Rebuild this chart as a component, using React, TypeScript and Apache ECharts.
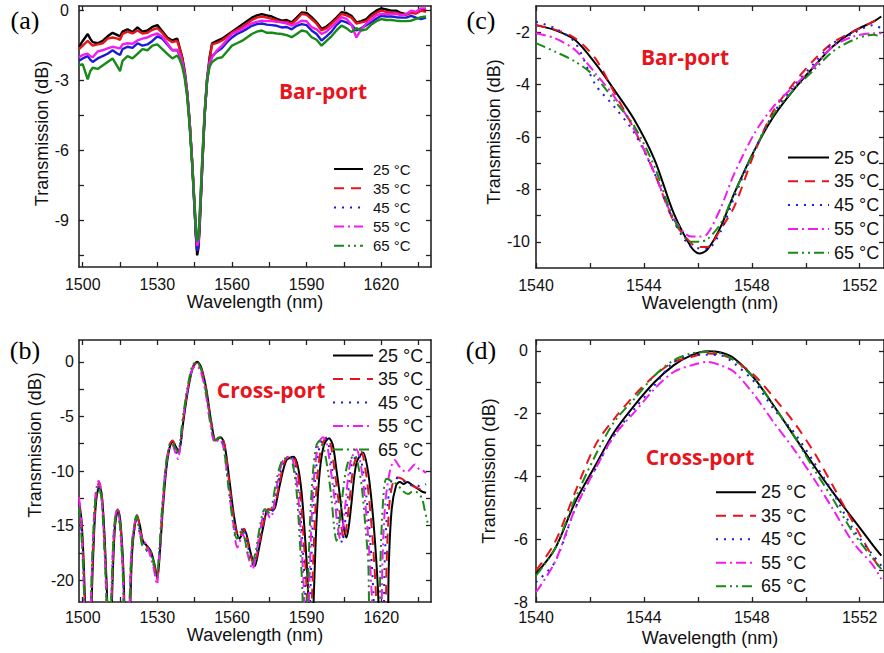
import React, { useEffect, useRef } from 'react';
import * as echarts from 'echarts';

const FONT = "'Liberation Sans', Arial, sans-serif";
const NAMES = ['25 °C', '35 °C', '45 °C', '55 °C', '65 °C'];
const COLORS = ['#000000', '#e8141b', '#1c1cd6', '#f01cf0', '#178a17'];
const DASHES: any[] = ['solid', [10, 7], [2, 6], [10, 4, 2, 4], [10, 4, 2, 4, 2, 4]];

// ---------- Panel (a): Bar-port, full span ----------
const A_WL = [
  1498.5, 1500, 1502, 1503, 1504,
  1506, 1508, 1510, 1512, 1514,
  1515, 1516, 1518, 1520, 1522,
  1524, 1526, 1528, 1530, 1532,
  1534, 1536, 1538, 1539, 1540,
  1541, 1542, 1543, 1544, 1545,
  1545.5, 1546, 1546.5, 1547, 1548,
  1549, 1550, 1551, 1552, 1554,
  1556, 1558, 1560, 1562, 1564,
  1566, 1568, 1570, 1572, 1574,
  1576, 1578, 1580, 1582, 1584,
  1586, 1588, 1590, 1592, 1594,
  1596, 1598, 1600, 1602, 1604,
  1606, 1608, 1610, 1612, 1614,
  1616, 1618, 1620, 1622, 1624,
  1626, 1628, 1630, 1632, 1634,
  1636, 1638,
];
const A_25 = [
  -1.55, -1.3, -1.0, -1.2, -1.35,
  -1.4, -1.3, -1.1, -0.95, -1.05,
  -1.1, -0.9, -0.8, -0.92, -0.72,
  -0.9, -0.85, -0.7, -0.62, -0.88,
  -1.15, -1.28, -1.2, -1.6, -2.0,
  -2.6, -3.5, -4.8, -6.5, -8.6,
  -9.7, -10.5, -10.2, -9.3, -6.8,
  -4.5, -2.9, -2.0, -1.4, -1.3,
  -1.2, -1.05, -0.9, -0.75, -0.6,
  -0.45, -0.3, -0.2, -0.15, -0.2,
  -0.25, -0.35, -0.43, -0.4, -0.5,
  -0.3, -0.08, -0.1, -0.28, -0.5,
  -0.78, -0.68, -0.5, -0.3, -0.07,
  -0.1, -0.22, -0.5, -0.45, -0.36,
  -0.15, 0.0, 0.1, 0.05, 0.0,
  0.0, -0.1, -0.15, -0.07, -0.1,
  0.05, 0.0,
];
const A_35 = [
  -1.65, -1.5, -1.3, -1.4, -1.5,
  -1.45, -1.4, -1.2, -1.15, -1.2,
  -1.25, -1.0, -0.9, -0.98, -0.85,
  -0.98, -0.95, -0.82, -0.75, -0.95,
  -1.22, -1.35, -1.3, -1.65, -2.05,
  -2.65, -3.5, -4.8, -6.5, -8.5,
  -9.6, -10.3, -10.1, -9.2, -6.8,
  -4.5, -3.0, -2.1, -1.45, -1.38,
  -1.28, -1.12, -0.95, -0.82, -0.7,
  -0.55, -0.4, -0.3, -0.25, -0.3,
  -0.35, -0.42, -0.5, -0.48, -0.56,
  -0.38, -0.14, -0.18, -0.36, -0.56,
  -0.85, -0.75, -0.56, -0.36, -0.14,
  -0.2, -0.3, -0.55, -0.5, -0.45,
  -0.25, -0.1, 0.0, -0.05, -0.1,
  -0.1, -0.15, -0.18, -0.1, -0.12,
  0.0, -0.05,
];
const A_45 = [
  -2.15, -2.05, -1.95, -2.1, -2.2,
  -2.05, -1.95, -1.85, -1.7, -1.85,
  -1.9, -1.65, -1.55, -1.6, -1.4,
  -1.5, -1.45, -1.3, -1.1, -1.2,
  -1.45, -1.7, -1.7, -1.95, -2.25,
  -2.8, -3.6, -4.9, -6.6, -8.6,
  -9.6, -10.3, -10.1, -9.1, -6.7,
  -4.5, -3.0, -2.3, -1.95, -1.75,
  -1.6, -1.35, -1.15, -1.0, -0.9,
  -0.78, -0.65, -0.58, -0.55, -0.6,
  -0.62, -0.65, -0.72, -0.7, -0.8,
  -0.65, -0.58, -0.62, -0.85, -1.0,
  -1.28, -1.1, -0.9, -0.62, -0.43,
  -0.5, -0.6, -0.85, -0.75, -0.62,
  -0.5, -0.35, -0.22, -0.25, -0.25,
  -0.28, -0.3, -0.3, -0.22, -0.3,
  -0.36, -0.3,
];
const A_55 = [
  -2.0, -1.9, -1.85, -1.95, -2.0,
  -1.75, -1.7, -1.62, -1.55, -1.6,
  -1.62, -1.45, -1.4, -1.42, -1.28,
  -1.2, -1.15, -1.05, -0.98, -1.12,
  -1.4, -1.7, -1.68, -1.9, -2.2,
  -2.75, -3.55, -4.85, -6.5, -8.4,
  -9.4, -10.1, -9.9, -8.9, -6.5,
  -4.3, -2.9, -2.25, -2.0, -1.7,
  -1.5, -1.25, -1.0, -0.9, -0.8,
  -0.65, -0.55, -0.48, -0.43, -0.45,
  -0.45, -0.48, -0.5, -0.55, -0.64,
  -0.55, -0.43, -0.45, -0.71, -0.8,
  -1.0, -0.9, -0.7, -0.5, -0.28,
  -0.35, -0.6, -1.15, -0.8, -0.55,
  -0.4, -0.2, -0.14, -0.15, -0.15,
  -0.14, -0.2, -0.15, 0.0, -0.05,
  0.1, 0.1,
];
const A_65 = [
  -2.35, -2.3, -2.95, -2.6, -2.45,
  -2.5, -2.35, -2.2, -2.05, -2.4,
  -2.6, -2.15, -1.95, -2.05, -1.85,
  -1.65, -1.7, -1.5, -1.45, -1.65,
  -1.85, -2.05, -1.92, -2.1, -2.4,
  -2.9, -3.7, -5.0, -6.6, -8.4,
  -9.3, -9.9, -9.7, -8.8, -6.5,
  -4.4, -3.0, -2.4, -2.2, -2.05,
  -2.0, -1.75, -1.5, -1.4, -1.3,
  -1.15, -1.0, -0.9, -0.85, -0.95,
  -0.95, -0.98, -1.0, -1.05, -1.14,
  -1.0, -0.85, -0.9, -1.14, -1.25,
  -1.5, -1.3, -1.1, -0.85, -0.64,
  -0.75, -0.92, -0.75, -0.85, -0.8,
  -0.6, -0.45, -0.36, -0.4, -0.4,
  -0.43, -0.45, -0.45, -0.43, -0.35,
  -0.28, -0.25,
];

// ---------- Panel (b): Cross-port, full span ([wavelength, dB]) ----------
const B_25 = [
  [1498.5, -12.8], [1499.5, -14.5], [1500.5, -19], [1501.5, -26], [1502.5, -30], [1503.5, -22.5], [1504.5, -16], [1505.5, -12.5],
  [1506.7, -11.4], [1507.8, -12.5], [1509, -17], [1510, -23], [1510.8, -30], [1512, -20], [1513, -15], [1514.2, -13.6],
  [1515.3, -15], [1516.5, -20], [1517.5, -30], [1519, -23], [1520, -17], [1521.9, -14.1], [1523, -15], [1524.2, -16.4],
  [1526, -16.9], [1527.5, -17.4], [1528.8, -18.5], [1530, -19.8], [1531, -17.5], [1532.2, -13.5], [1533.6, -9.8], [1535, -7.8],
  [1536.2, -7.3], [1537.5, -7.8], [1538.6, -8.2], [1539.5, -7.3], [1540.3, -5.7], [1542.3, -2.6], [1544.3, -0.5], [1546, 0],
  [1547.6, -0.5], [1549.6, -2.4], [1551.6, -5.4], [1553.5, -7.2], [1555.4, -6.9], [1557, -7.6], [1559, -10.9], [1561, -14.4],
  [1563, -16.2], [1565, -15.4], [1567.5, -17.5], [1569.2, -18.7], [1570.5, -17.5], [1572.5, -15.2], [1574.5, -13.5], [1576.5, -13.6],
  [1577.5, -13.2], [1579.3, -11.2], [1581.9, -9.0], [1584.8, -8.7], [1586.5, -9.6], [1588, -12], [1589.5, -16.5], [1590.6, -21],
  [1591.5, -30], [1592.8, -22], [1594, -14.5], [1595.3, -10.0], [1597, -7.6], [1599, -7.0], [1600.5, -7.6], [1602, -9.9],
  [1603.5, -12.5], [1604.8, -15.0], [1606, -16.1], [1607, -15.0], [1608, -13.0], [1610, -9.3], [1612.7, -8.3], [1614.5, -9.8],
  [1616, -12.5], [1617.5, -16.5], [1618.8, -21.5], [1620, -30], [1622.2, -30], [1623, -19], [1624.2, -13.5], [1626, -11.3],
  [1627.5, -11.0], [1629, -11.2], [1630.5, -11.0], [1632.5, -11.3], [1634.5, -11.6], [1636.5, -11.9], [1638, -12.0],
];
const B_35 = [
  [1498.5, -12.9], [1499.4, -14.5], [1500.4, -19], [1501.4, -26], [1502.4, -30], [1503.4, -22.5], [1504.4, -16], [1505.4, -12.3],
  [1506.6, -11.0], [1507.7, -12.3], [1508.9, -17], [1509.9, -23], [1510.7, -30], [1511.9, -20], [1512.9, -15], [1514.1, -13.5],
  [1515.2, -15], [1516.4, -20], [1517.4, -30], [1518.9, -23], [1519.9, -17], [1521.8, -14.0], [1522.9, -15], [1524.1, -16.5],
  [1525.9, -17.0], [1527.4, -17.5], [1528.7, -18.6], [1529.9, -19.9], [1530.9, -17.5], [1532.1, -13.4], [1533.5, -9.6], [1534.9, -7.6],
  [1536.1, -7.2], [1537.4, -7.8], [1538.5, -8.3], [1539.4, -7.3], [1540.2, -5.6], [1542.2, -2.5], [1544.2, -0.5], [1545.9, -0.1],
  [1547.5, -0.5], [1549.5, -2.4], [1551.5, -5.4], [1553.4, -7.2], [1555.3, -6.8], [1556.9, -7.5], [1558.8, -10.9], [1560.8, -14.4],
  [1562.8, -16.1], [1564.8, -15.3], [1567.2, -17.5], [1568.9, -18.6], [1570.2, -17.5], [1572.2, -15.2], [1574.2, -13.6], [1576.1, -13.5],
  [1577.1, -13.3], [1578.9, -11.3], [1581.4, -9.0], [1584.3, -8.6], [1586, -9.6], [1587.4, -12], [1588.9, -16.5], [1590, -21],
  [1590.9, -30], [1592.1, -22], [1593.3, -14.5], [1594.5, -10.0], [1596.2, -7.6], [1598.2, -6.9], [1599.7, -7.6], [1601.2, -9.9],
  [1602.7, -12.5], [1603.9, -15.0], [1605.1, -16.2], [1606.1, -15.0], [1607.1, -13.0], [1609.1, -9.3], [1611.8, -8.2], [1613.6, -9.8],
  [1615.1, -12.5], [1616.6, -16.5], [1617.9, -21.5], [1619, -30], [1621.3, -30], [1622.1, -19], [1623.3, -13], [1625, -10.8],
  [1626.5, -10.6], [1628.2, -10.7], [1630, -11.0], [1632, -11.3], [1634, -11.5], [1636, -11.7], [1638, -11.8],
];
const B_45 = [
  [1498.5, -13.1], [1499.3, -14.7], [1500.3, -19], [1501.3, -26], [1502.3, -30], [1503.3, -22.5], [1504.3, -16], [1505.3, -12.5],
  [1506.5, -11.5], [1507.6, -12.6], [1508.8, -17], [1509.8, -23], [1510.6, -30], [1511.8, -20], [1512.8, -15], [1514.0, -13.8],
  [1515.1, -15.2], [1516.3, -20], [1517.3, -30], [1518.8, -23], [1519.8, -17], [1521.7, -14.6], [1522.8, -15.3], [1524.0, -16.6],
  [1525.8, -17.3], [1527.3, -17.6], [1528.6, -18.7], [1529.8, -19.8], [1530.8, -17.5], [1532.0, -13.6], [1533.4, -9.8], [1534.8, -7.9],
  [1536.0, -7.5], [1537.3, -8.1], [1538.4, -8.6], [1539.3, -7.4], [1540.1, -5.7], [1542.1, -2.6], [1544.1, -0.5], [1545.8, -0.1],
  [1547.4, -0.6], [1549.4, -2.5], [1551.4, -5.5], [1553.3, -7.3], [1555.1, -7.0], [1556.7, -7.6], [1558.6, -11.0], [1560.6, -14.5],
  [1562.5, -16.0], [1564.5, -15.2], [1566.8, -17.3], [1568.5, -18.6], [1569.9, -17.5], [1571.8, -15.2], [1573.8, -13.7], [1575.7, -13.8],
  [1576.7, -13.4], [1578.4, -11.3], [1580.9, -9.0], [1583.8, -8.6], [1585.4, -9.6], [1586.8, -12], [1588.3, -16.5], [1589.4, -21],
  [1590.3, -30], [1591.4, -22], [1592.5, -14.5], [1593.7, -10.0], [1595.4, -7.6], [1597.3, -6.9], [1598.8, -7.6], [1600.3, -9.9],
  [1601.8, -12.5], [1603.1, -15.0], [1604.3, -16.6], [1605.3, -15.0], [1606.3, -13.0], [1608.2, -9.3], [1610.8, -8.5], [1612.6, -9.8],
  [1614.1, -12.5], [1615.6, -16.5], [1616.9, -21.5], [1618, -30], [1620.5, -30], [1621.3, -19], [1622.6, -13], [1624.2, -10.8],
  [1625.4, -10.6], [1627.5, -10.8], [1629.5, -11.0], [1631.5, -11.3], [1633.5, -11.2], [1635.5, -11.4], [1638, -11.2],
];
const B_55 = [
  [1498.5, -12.4], [1499.3, -14.3], [1500.2, -19], [1501.2, -26], [1502.2, -30], [1503.2, -22.5], [1504.2, -15.8], [1505.2, -12.0],
  [1506.4, -10.9], [1507.5, -12.2], [1508.7, -17], [1509.7, -23], [1510.5, -30], [1511.7, -20], [1512.7, -14.8], [1513.9, -13.4],
  [1515.0, -15], [1516.2, -20], [1517.2, -30], [1518.7, -23], [1519.7, -16.8], [1521.6, -14.2], [1522.7, -15.5], [1523.9, -16.2],
  [1525.7, -16.8], [1527.2, -17.8], [1528.6, -19.0], [1529.8, -20.4], [1530.7, -17.8], [1531.9, -13.6], [1533.3, -9.8], [1534.7, -7.9],
  [1535.9, -7.6], [1537.2, -8.3], [1538.3, -8.9], [1539.2, -7.6], [1540.0, -5.8], [1542.0, -2.7], [1544.0, -0.7], [1545.7, -0.4],
  [1547.3, -0.8], [1549.3, -2.7], [1551.3, -5.7], [1553.2, -7.4], [1555.0, -7.1], [1556.6, -7.9], [1558.4, -11.0], [1560.4, -14.6],
  [1562.2, -17.0], [1564.3, -15.8], [1566.5, -17.8], [1568.2, -19.0], [1569.6, -17.8], [1571.5, -15.2], [1573.5, -13.5], [1575.4, -14.3],
  [1576.4, -13.8], [1578.1, -11.3], [1580.6, -9.0], [1583.6, -8.7], [1585.1, -9.7], [1586.5, -12], [1587.9, -16.5], [1588.9, -21],
  [1589.8, -30], [1590.9, -22], [1592.0, -14.5], [1593.2, -10.0], [1594.9, -7.4], [1596.6, -6.9], [1598.2, -7.6], [1599.7, -9.9],
  [1601.2, -12.5], [1602.4, -15.0], [1603.5, -16.2], [1604.6, -15.0], [1605.6, -13.0], [1607.5, -9.3], [1610.0, -8.0], [1611.9, -9.6],
  [1613.4, -12.5], [1614.9, -16.5], [1616.2, -21.5], [1617.2, -30], [1619.6, -30], [1620.4, -19], [1621.6, -13], [1623.5, -10.0],
  [1625.4, -9.0], [1627, -9.5], [1628.5, -9.9], [1630.2, -10.1], [1631.8, -9.8], [1633.5, -9.4], [1635.5, -9.9], [1637, -10.0], [1638, -10.2],
];
const B_65 = [
  [1498.5, -13.3], [1499.2, -15], [1500.2, -19], [1501.2, -26], [1502.2, -30], [1503.2, -22.5], [1504.2, -16], [1505.2, -12.4],
  [1506.4, -11.4], [1507.5, -12.5], [1508.7, -17], [1509.7, -23], [1510.5, -30], [1511.7, -20], [1512.7, -15], [1513.9, -13.6],
  [1515.0, -15], [1516.2, -20], [1517.2, -30], [1518.7, -23], [1519.7, -17], [1521.6, -14.1], [1522.7, -15.2], [1523.9, -16.8],
  [1525.7, -17.2], [1527.2, -17.3], [1528.5, -18.4], [1529.7, -19.6], [1530.7, -17.5], [1531.9, -13.4], [1533.3, -9.7], [1534.7, -7.7],
  [1535.9, -7.4], [1537.2, -7.9], [1538.3, -8.2], [1539.2, -7.3], [1540.0, -5.6], [1542.0, -2.5], [1544.0, -0.4], [1545.7, 0.0],
  [1547.3, -0.5], [1549.3, -2.4], [1551.3, -5.4], [1553.1, -7.2], [1554.9, -6.9], [1556.5, -7.6], [1558.3, -10.9], [1560.2, -14.4],
  [1562.0, -16.2], [1564.0, -15.4], [1566.3, -17.5], [1568.0, -18.4], [1569.4, -17.5], [1571.3, -15.0], [1573.2, -13.5], [1575.0, -13.8],
  [1576.0, -13.3], [1577.6, -11.2], [1580.2, -9.0], [1583.2, -8.8], [1584.7, -9.7], [1586, -12], [1587.3, -16.5], [1588.3, -21],
  [1589.2, -30], [1590.3, -22], [1591.4, -14.5], [1592.6, -10.0], [1594.0, -7.6], [1595.4, -7.2], [1596.8, -7.8], [1598.5, -9.9],
  [1600.0, -12.5], [1601.0, -15.0], [1602.0, -16.4], [1603.0, -15.0], [1604.0, -13.0], [1606.5, -9.3], [1609.4, -8.6], [1611.0, -9.8],
  [1612.2, -11.5], [1613.6, -15.0], [1614.8, -18.5], [1616.0, -30], [1619.0, -30], [1619.6, -19], [1620.8, -12.5], [1622.1, -10.7],
  [1624, -10.9], [1626.7, -11.3], [1628.5, -11.8], [1630.8, -12.1], [1632.5, -11.9], [1634.8, -12.0], [1636.5, -12.6], [1637.5, -13.6], [1638.8, -14.9],
];

// ---------- Panel (c): Bar-port, zoom ----------
const C_WL = [1540.0, 1540.7, 1541.45, 1542.2, 1542.9, 1543.65, 1544.4, 1545.1, 1545.75, 1546.05, 1546.35, 1546.85, 1547.35, 1548.1, 1548.8, 1549.55, 1550.3, 1551.0, 1551.75, 1552.5, 1552.8];
const C_25 = [-1.73, -1.92, -2.3, -3.19, -4.2, -5.35, -6.88, -8.9, -10.2, -10.45, -10.3, -9.42, -8.15, -6.5, -5.23, -4.2, -3.32, -2.55, -1.98, -1.6, -1.4];
const C_35 = [-1.73, -1.9, -2.23, -3.0, -4.3, -5.73, -7.4, -9.2, -10.05, -10.2, -10.2, -9.5, -8.66, -6.6, -5.0, -3.95, -3.06, -2.4, -1.98, -1.6, -1.47];
const C_45 = [-1.6, -1.85, -2.4, -4.0, -4.84, -5.86, -7.4, -9.2, -10.2, -10.25, -10.27, -9.6, -8.3, -6.5, -5.1, -4.07, -3.2, -2.43, -2.05, -1.73, -1.85];
const C_55 = [-2.04, -2.23, -2.68, -3.57, -4.46, -5.73, -7.4, -9.1, -9.8, -9.8, -9.7, -8.7, -7.4, -5.86, -4.84, -4.07, -3.32, -2.55, -2.17, -2.04, -2.04];
const C_65 = [-2.42, -2.74, -3.12, -3.7, -4.6, -5.6, -7.15, -9.1, -10.0, -10.0, -9.9, -9.3, -8.15, -6.5, -5.15, -4.2, -3.44, -2.74, -2.3, -2.1, -2.17];

// ---------- Panel (d): Cross-port, zoom ----------
const D_WL = [1540.0, 1540.7, 1541.45, 1542.2, 1542.9, 1543.65, 1544.4, 1545.1, 1545.75, 1546.35, 1546.85, 1547.35, 1548.1, 1548.8, 1549.55, 1550.3, 1551.0, 1551.75, 1552.5, 1552.8];
const D_25 = [-7.1, -6.31, -4.82, -3.65, -2.58, -1.73, -0.99, -0.46, -0.14, -0.01, -0.05, -0.24, -0.88, -1.73, -2.69, -3.65, -4.5, -5.35, -6.2, -6.52];
const D_35 = [-7.0, -6.1, -4.5, -3.0, -2.16, -1.41, -0.78, -0.35, -0.19, -0.08, -0.12, -0.3, -0.78, -1.47, -2.26, -3.22, -4.29, -5.46, -6.6, -7.0];
const D_45 = [-7.37, -6.73, -5.03, -3.76, -2.69, -1.84, -1.09, -0.35, -0.14, -0.12, -0.14, -0.4, -0.99, -1.84, -2.58, -3.54, -4.5, -5.67, -6.52, -6.84];
const D_55 = [-7.69, -6.73, -5.03, -3.76, -2.69, -1.95, -1.2, -0.67, -0.46, -0.35, -0.46, -0.67, -1.41, -2.26, -3.12, -4.07, -5.03, -6.1, -6.84, -7.27];
const D_65 = [-7.16, -6.3, -4.71, -3.33, -2.26, -1.52, -0.78, -0.3, -0.08, -0.03, -0.08, -0.3, -0.88, -1.73, -2.69, -3.76, -4.71, -5.78, -6.63, -6.95];

// ---------- Axis ticks / labels ----------
const AB_X_LABELS = [1500, 1530, 1560, 1590, 1620];
const AB_X_TICKS = [1500, 1515, 1530, 1545, 1560, 1575, 1590, 1605, 1620, 1635];
const CD_X_LABELS = [1540, 1544, 1548, 1552];
const CD_X_TICKS = [1540, 1542, 1544, 1546, 1548, 1550, 1552];
const A_Y_LABELS = [0, -3, -6, -9];
const A_Y_TICKS = [0, -1.5, -3, -4.5, -6, -7.5, -9, -10.5];
const B_Y_LABELS = [0, -5, -10, -15, -20];
const B_Y_TICKS = [0, -2.5, -5, -7.5, -10, -12.5, -15, -17.5, -20];
const C_Y_LABELS = [-2, -4, -6, -8, -10];
const C_Y_TICKS = [-2, -3, -4, -5, -6, -7, -8, -9, -10];
const D_Y_LABELS = [0, -2, -4, -6, -8];
const D_Y_TICKS = [0, -1, -2, -3, -4, -5, -6, -7];

const AX = '#222';
const TXT = '#111';
const plain = (v: number) => String(v);

function xAxes(grid: number, min: number, max: number, labels: number[], ticks: number[], nameGap: number, margin: number) {
  const common: any = {
    type: 'value', gridIndex: grid, min, max,
    splitLine: { show: false },
    axisLine: { show: true, onZero: false, lineStyle: { color: AX, width: 1.6 } },
    axisTick: { show: true, inside: true, length: 5, customValues: ticks, lineStyle: { color: AX, width: 1.3 } },
  };
  return [
    {
      ...common, position: 'bottom',
      axisLabel: { customValues: labels, formatter: plain, margin, fontSize: 16, color: TXT, fontFamily: FONT },
      name: 'Wavelength (nm)', nameLocation: 'middle', nameGap,
      nameTextStyle: { fontSize: 18, color: TXT, fontFamily: FONT },
    },
    { ...common, position: 'top', axisLabel: { show: false } },
  ];
}

function yAxes(grid: number, min: number, max: number, labels: number[], ticks: number[], nameGap: number, margin: number, namePad: number[]) {
  const common: any = {
    type: 'value', gridIndex: grid, min, max,
    splitLine: { show: false },
    axisLine: { show: true, onZero: false, lineStyle: { color: AX, width: 1.6 } },
    axisTick: { show: true, inside: true, length: 5, customValues: ticks, lineStyle: { color: AX, width: 1.3 } },
  };
  return [
    {
      ...common, position: 'left',
      axisLabel: { customValues: labels, formatter: plain, margin, fontSize: 16, color: TXT, fontFamily: FONT },
      name: 'Transmission (dB)', nameLocation: 'middle', nameGap,
      nameTextStyle: { fontSize: 18, color: TXT, fontFamily: FONT, padding: namePad },
    },
    { ...common, position: 'right', axisLabel: { show: false } },
  ];
}

function pairSeries(wl: number[], vals: number[]) {
  return wl.map((w, i) => [w, vals[i]]);
}

function legendFor(left: number, top: number, itemWidth: number, itemGap: number, fontSize: number, extraPad: number) {
  return {
    orient: 'vertical', left, top, padding: 0,
    itemWidth, itemHeight: 10, itemGap,
    selectedMode: false,
    textStyle: { fontSize, lineHeight: fontSize + 1, color: TXT, fontFamily: FONT, padding: [0, 0, 0, extraPad] },
    data: NAMES.map((n, i) => ({
      name: n,
      lineStyle: { color: COLORS[i], width: 2, type: DASHES[i] },
      itemStyle: { color: 'rgba(0,0,0,0)', borderWidth: 0, opacity: 0 },
    })),
  };
}

export default function App() {
  const ref = useRef<HTMLDivElement>(null);
  useEffect(() => {
    if (!ref.current) return;
    const chart = echarts.init(ref.current, undefined, { renderer: 'svg' });

    const aData = [A_25, A_35, A_45, A_55, A_65];
    const bData = [B_25, B_35, B_45, B_55, B_65];
    const cData = [C_25, C_35, C_45, C_55, C_65];
    const dData = [D_25, D_35, D_45, D_55, D_65];

    const series: any[] = [];
    const order = [0, 1, 2, 3, 4];
    order.forEach((k) => {
      series.push({
        type: 'line', name: NAMES[k], xAxisIndex: 0, yAxisIndex: 0, symbol: 'none',
        data: pairSeries(A_WL, aData[k]),
        lineStyle: { color: COLORS[k], width: 2.4, type: 'solid' }, itemStyle: { color: COLORS[k] },
      });
    });
    order.forEach((k) => {
      series.push({
        type: 'line', name: NAMES[k], xAxisIndex: 2, yAxisIndex: 2, symbol: 'none', smooth: 0.3,
        data: bData[k],
        lineStyle: { color: COLORS[k], width: 2, type: DASHES[k] }, itemStyle: { color: COLORS[k] },
      });
    });
    order.forEach((k) => {
      series.push({
        type: 'line', name: NAMES[k], xAxisIndex: 4, yAxisIndex: 4, symbol: 'none', smooth: 0.3,
        data: pairSeries(C_WL, cData[k]),
        lineStyle: { color: COLORS[k], width: 2, type: DASHES[k] }, itemStyle: { color: COLORS[k] },
      });
    });
    order.forEach((k) => {
      series.push({
        type: 'line', name: NAMES[k], xAxisIndex: 6, yAxisIndex: 6, symbol: 'none', smooth: 0.3,
        data: pairSeries(D_WL, dData[k]),
        lineStyle: { color: COLORS[k], width: 2, type: DASHES[k] }, itemStyle: { color: COLORS[k] },
      });
    });

    const red = '#e8141b';
    const tagStyle = (t: string) => ({ text: t, fontFamily: "'Open Sans', sans-serif", fontWeight: 'bold', fontSize: 21, fill: red, align: 'center', verticalAlign: 'middle' });
    const panelStyle = (t: string) => ({ text: t, fontFamily: "'Liberation Serif', 'Times New Roman', serif", fontSize: 26, fill: '#000', align: 'center', verticalAlign: 'middle' });

    chart.setOption({
      animation: false,
      backgroundColor: '#ffffff',
      grid: [
        { left: 79, top: 6, width: 352, height: 261 },
        { left: 79, top: 340, width: 352, height: 262 },
        { left: 536, top: 6, width: 350, height: 262 },
        { left: 536, top: 340, width: 350, height: 262 },
      ],
      xAxis: [
        ...xAxes(0, 1498.5, 1640, AB_X_LABELS, AB_X_TICKS, 22, 9),
        ...xAxes(1, 1498.5, 1640, AB_X_LABELS, AB_X_TICKS, 21, 7),
        ...xAxes(2, 1540, 1552.9, CD_X_LABELS, CD_X_TICKS, 24, 9),
        ...xAxes(3, 1540, 1552.9, CD_X_LABELS, CD_X_TICKS, 27, 7),
      ],
      yAxis: [
        ...yAxes(0, -11, 0.2, A_Y_LABELS, A_Y_TICKS, 27, 10, [0, 0, 0, 6]),
        ...yAxes(1, -22, 2, B_Y_LABELS, B_Y_TICKS, 35, 5, [0, 0, 0, 52]),
        ...yAxes(2, -11, -1, C_Y_LABELS, C_Y_TICKS, 27, 6, [0, 0, 0, 10]),
        ...yAxes(3, -8, 0.35, D_Y_LABELS, D_Y_TICKS, 32, 8, [0, 0, 6, 0]),
      ],
      legend: [
        legendFor(333, 161, 29, 3.2, 15, 5),
        legendFor(332, 346, 40, 4.5, 18, 0),
        legendFor(787, 148, 41, 4.8, 18, 0),
        legendFor(715, 482.7, 40, 4.5, 18, 0),
      ],
      graphic: [
        { type: 'text', x: 25, y: 20, style: panelStyle('(a)') },
        { type: 'text', x: 481, y: 20, style: panelStyle('(c)') },
        { type: 'text', x: 25, y: 350, style: panelStyle('(b)') },
        { type: 'text', x: 481, y: 350, style: panelStyle('(d)') },
        { type: 'text', x: 323, y: 91, style: tagStyle('Bar-port') },
        { type: 'text', x: 685, y: 57, style: tagStyle('Bar-port') },
        { type: 'text', x: 271, y: 390, style: tagStyle('Cross-port') },
        { type: 'text', x: 700, y: 457, style: tagStyle('Cross-port') },
      ],
      series,
    });
    return () => chart.dispose();
  }, []);
  return <div ref={ref} style={{ position: 'absolute', left: 0, top: 0, width: 884, height: 653, background: '#fff' }} />;
}
